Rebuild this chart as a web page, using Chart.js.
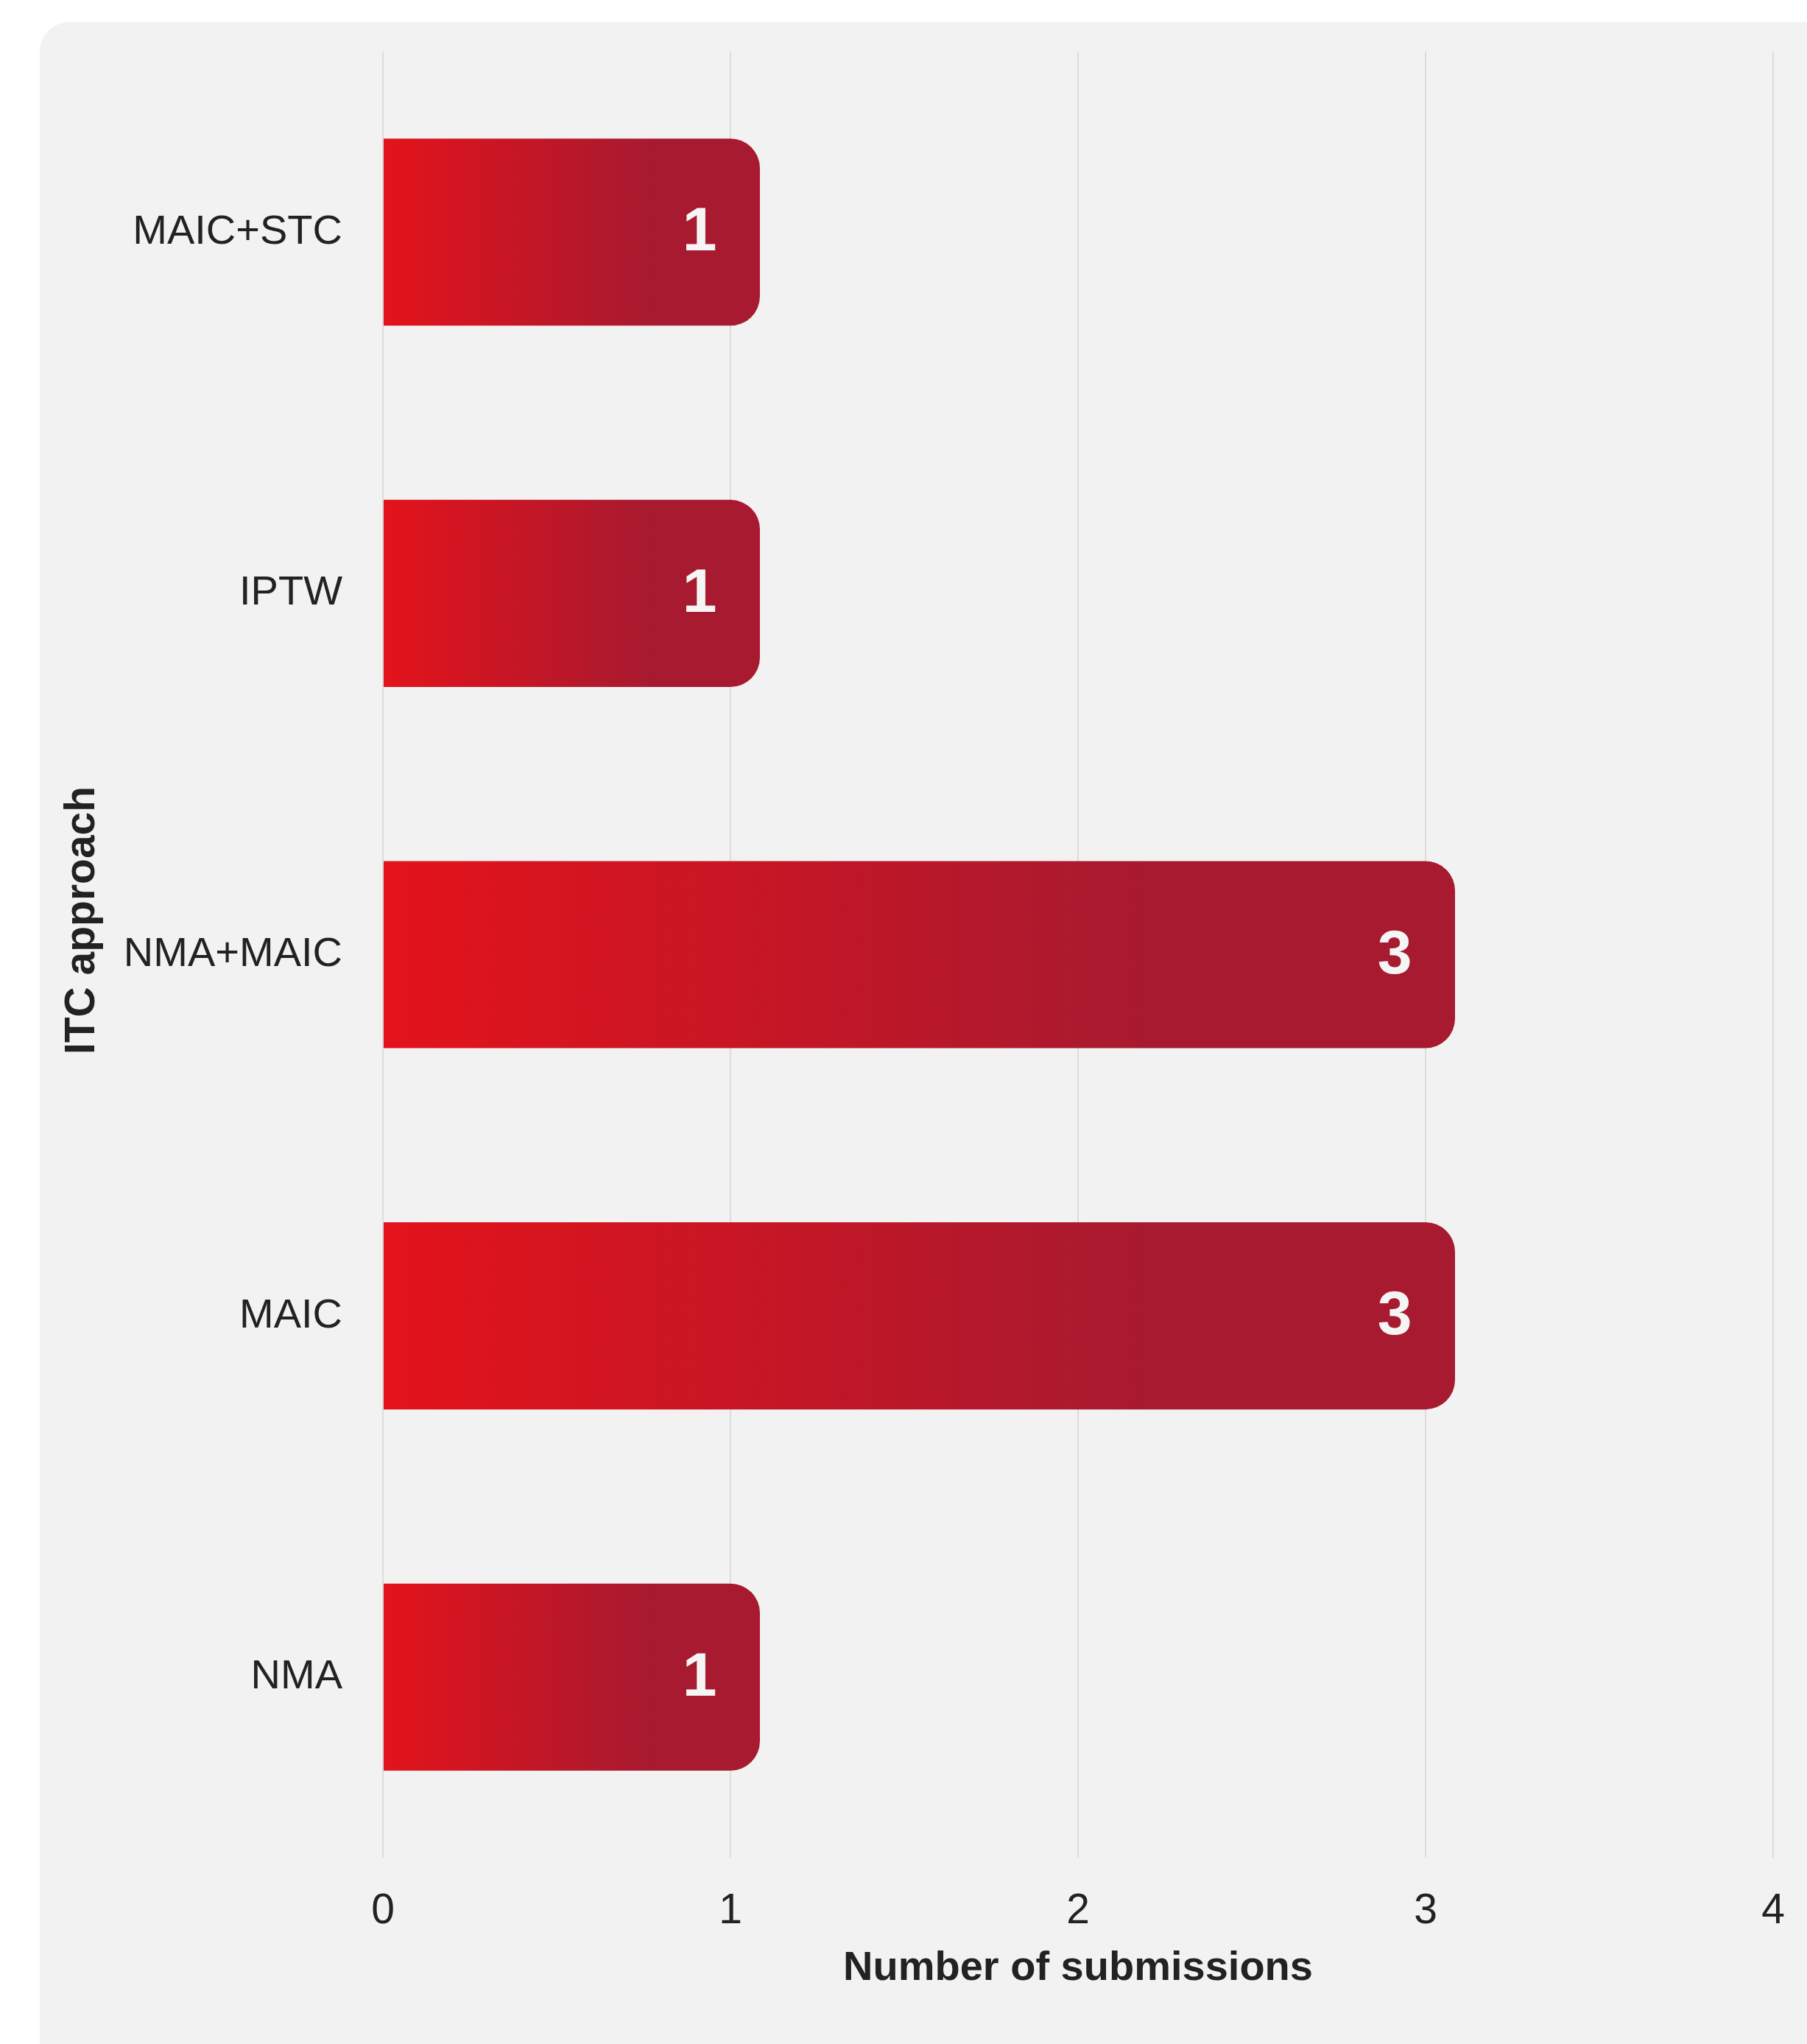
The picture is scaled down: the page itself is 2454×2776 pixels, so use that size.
<!DOCTYPE html>
<html>
<head>
<meta charset="utf-8">
<script src="https://cdn.jsdelivr.net/npm/chart.js@4.4.1/dist/chart.umd.min.js"></script>
<style>
  html, body { margin: 0; padding: 0; background: #ffffff; }
  body { width: 2454px; height: 2776px; position: relative; overflow: hidden; }
  .card {
    position: absolute; left: 54px; top: 30px; right: 0; bottom: 0;
    background: #f2f2f2; border-top-left-radius: 40px;
  }
  #myChart { position: absolute; left: 0; top: 0; }
</style>
</head>
<body>
<div class="card"></div>
<canvas id="myChart" width="2454" height="2776"></canvas>
<script>
const approaches = ['MAIC+STC', 'IPTW', 'NMA+MAIC', 'MAIC', 'NMA'];
const submissions = [1, 1, 3, 3, 1];
const xMin = 0;
const xMax = 4;
const yTitle = 'ITC approach';
const xTitle = 'Number of submissions';

const FONT = "'Liberation Sans', Arial, sans-serif";
const BAR_EXTRA = 40; // bars run a little past their value, rounded end

// gradient runs from bright red at the base to crimson, per bar
function barGradient(ctx) {
  const chart = ctx.chart;
  const xs = chart.scales.x;
  if (!chart.chartArea || !xs) return '#c0182a';
  const x0 = xs.getPixelForValue(0);
  const x1 = xs.getPixelForValue(ctx.raw) + BAR_EXTRA;
  const g = chart.ctx.createLinearGradient(x0, 0, x1, 0);
  g.addColorStop(0, '#e3131b');
  g.addColorStop(0.72, '#a71a30');
  g.addColorStop(1, '#a71a30');
  return g;
}

const extendBars = {
  id: 'extendBars',
  afterDatasetsUpdate(chart) {
    chart.getDatasetMeta(0).data.forEach(el => { el.x += BAR_EXTRA; });
  }
};

const valueLabels = {
  id: 'valueLabels',
  afterDatasetsDraw(chart) {
    const ctx = chart.ctx;
    const xs = chart.scales.x;
    const meta = chart.getDatasetMeta(0);
    ctx.save();
    ctx.font = 'bold 84px ' + FONT;
    ctx.fillStyle = '#f5f5f5';
    ctx.textAlign = 'center';
    ctx.textBaseline = 'middle';
    meta.data.forEach((el, i) => {
      const v = submissions[i];
      ctx.fillText(String(v), xs.getPixelForValue(v) - 42, el.y + 2);
    });
    ctx.restore();
  }
};

// y title sits a bit above the middle of the plot in the original
const sideTitle = {
  id: 'sideTitle',
  afterDraw(chart) {
    const ctx = chart.ctx;
    ctx.save();
    ctx.translate(112, 1250);
    ctx.rotate(-Math.PI / 2);
    ctx.font = 'bold 57px ' + FONT;
    ctx.fillStyle = '#222222';
    ctx.textAlign = 'center';
    ctx.textBaseline = 'middle';
    ctx.fillText(yTitle, 0, 0);
    ctx.restore();
  }
};

const data = {
  labels: approaches,
  datasets: [{
    label: xTitle,
    data: submissions,
    backgroundColor: barGradient,
    borderWidth: 0,
    borderRadius: 40,
    borderSkipped: 'start',
    categoryPercentage: 1,
    barPercentage: 0.518
  }]
};

const config = {
  type: 'bar',
  data: data,
  options: {
    indexAxis: 'y',
    responsive: false,
    animation: false,
    layout: { padding: { left: 0, right: 46, top: 70, bottom: 0 } },
    plugins: {
      legend: { display: false },
      tooltip: { enabled: false }
    },
    scales: {
      x: {
        min: xMin,
        max: xMax,
        ticks: {
          stepSize: 1,
          padding: 39,
          color: '#222222',
          font: { family: FONT, size: 57 }
        },
        grid: { color: '#dcdcdc', lineWidth: 2, drawTicks: false },
        border: { display: false },
        title: {
          display: true,
          text: xTitle,
          color: '#222222',
          font: { family: FONT, size: 56, weight: 'bold' },
          padding: { top: 0, bottom: 69 }
        },
        afterFit(scale) {
          scale.height = 253;
          scale.paddingLeft = 0;
          scale.paddingRight = 0;
        }
      },
      y: {
        ticks: {
          padding: 55,
          color: '#222222',
          font: { family: FONT, size: 56 }
        },
        grid: { display: false, drawTicks: false },
        border: { display: false },
        afterFit(scale) {
          scale.width = 520;
          scale.paddingTop = 0;
          scale.paddingBottom = 0;
        }
      }
    }
  },
  plugins: [extendBars, valueLabels, sideTitle]
};

const myChart = new Chart(document.getElementById('myChart'), config);
</script>
</body>
</html>
